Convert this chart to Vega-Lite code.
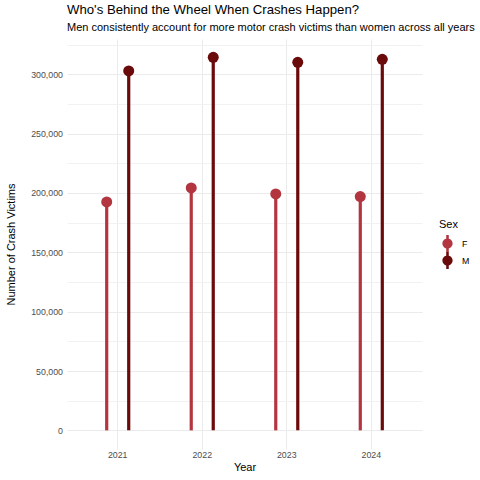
{
  "$schema": "https://vega.github.io/schema/vega-lite/v6.json",
  "autosize": "none",
  "width": 355,
  "height": 410,
  "padding": {"left": 67, "top": 39, "right": 58, "bottom": 31},
  "background": "white",
  "title": {
    "text": "Who's Behind the Wheel When Crashes Happen?",
    "subtitle": "Men consistently account for more motor crash victims than women across all years",
    "anchor": "start",
    "frame": "group",
    "font": "Liberation Sans",
    "fontSize": 13.2,
    "fontWeight": "normal",
    "color": "black",
    "subtitleFont": "Liberation Sans",
    "subtitleFontSize": 11,
    "subtitleColor": "black",
    "subtitlePadding": 5,
    "offset": 5
  },
  "data": {
    "values": [
      {"Year": "2021", "Sex": "F", "Victims": 192400},
      {"Year": "2021", "Sex": "M", "Victims": 302800},
      {"Year": "2022", "Sex": "F", "Victims": 204200},
      {"Year": "2022", "Sex": "M", "Victims": 314300},
      {"Year": "2023", "Sex": "F", "Victims": 199200},
      {"Year": "2023", "Sex": "M", "Victims": 310100},
      {"Year": "2024", "Sex": "F", "Victims": 197000},
      {"Year": "2024", "Sex": "M", "Victims": 312600}
    ]
  },
  "encoding": {
    "x": {
      "field": "Year",
      "type": "nominal",
      "title": "Year",
      "scale": {"type": "band", "paddingInner": 0, "paddingOuter": 0.1},
      "axis": {"labelAngle": 0, "bandPosition": 0.5, "labelPadding": 1, "titlePadding": 3}
    },
    "xOffset": {
      "field": "Sex",
      "type": "nominal",
      "scale": {"type": "band", "paddingInner": 0, "paddingOuter": 0.92}
    },
    "y": {
      "field": "Victims",
      "type": "quantitative",
      "title": "Number of Crash Victims",
      "scale": {"domain": [-15700, 329700], "nice": false, "zero": false},
      "axis": {
        "values": [0, 25000, 50000, 75000, 100000, 125000, 150000, 175000, 200000, 225000, 250000, 275000, 300000, 325000],
        "labelExpr": "datum.value % 50000 == 0 ? format(datum.value, ',') : ''",
        "gridColor": {"condition": {"test": "datum.value % 50000 != 0", "value": "#F2F2F2"}, "value": "#EBEBEB"},
        "labelPadding": 4.5,
        "titlePadding": 14
      }
    },
    "color": {
      "field": "Sex",
      "type": "nominal",
      "title": "Sex",
      "scale": {"domain": ["F", "M"], "range": ["#B2353F", "#6B0A0A"]},
      "legend": {
        "orient": "none",
        "legendX": 372,
        "legendY": 180,
        "symbolType": "M-0.15,-1L0.15,-1L0.15,1L-0.15,1ZM0.6,0A0.6,0.6,0,1,1,-0.6,0A0.6,0.6,0,1,1,0.6,0Z",
        "symbolSize": 289,
        "symbolStrokeWidth": 0,
        "symbolOpacity": 1,
        "rowPadding": 0,
        "labelOffset": 6
      }
    }
  },
  "layer": [
    {
      "mark": {"type": "rule", "strokeWidth": 3.2},
      "encoding": {"y2": {"datum": 0}}
    },
    {
      "mark": {"type": "point", "filled": true, "opacity": 1, "size": 121}
    }
  ],
  "config": {
    "font": "Liberation Sans",
    "view": {"stroke": null},
    "axis": {
      "domain": false,
      "ticks": false,
      "grid": true,
      "gridColor": "#EBEBEB",
      "gridWidth": 1,
      "labelFont": "Liberation Sans",
      "labelFontSize": 8.8,
      "labelColor": "#4D4D4D",
      "titleFont": "Liberation Sans",
      "titleFontSize": 11,
      "titleFontWeight": "normal",
      "titleColor": "black"
    },
    "legend": {
      "titleFont": "Liberation Sans",
      "titleFontSize": 11,
      "titleFontWeight": "normal",
      "titleColor": "black",
      "labelFont": "Liberation Sans",
      "labelFontSize": 8.8,
      "labelColor": "black"
    }
  }
}
